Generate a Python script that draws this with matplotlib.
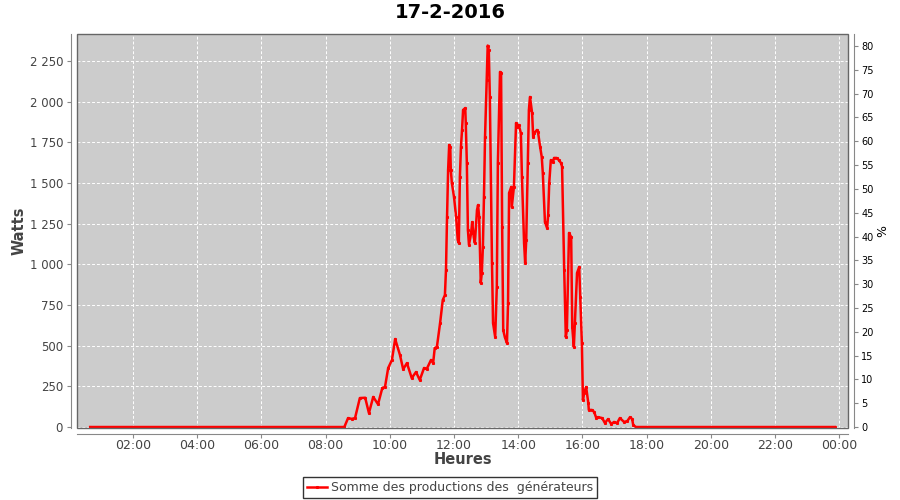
import matplotlib
matplotlib.use("Agg")
import matplotlib.pyplot as plt
from matplotlib.patches import Rectangle
from matplotlib.ticker import FuncFormatter

# Data (time of day, watts)
times = ["00:40", "08:35", "08:42", "08:49", "08:55", "09:04", "09:14", "09:21", "09:29",
         "09:38", "09:46", "09:51", "09:57", "10:04", "10:10", "10:19", "10:25", "10:32",
         "10:41", "10:49", "10:56", "11:04", "11:09", "11:17", "11:21", "11:24", "11:28",
         "11:34", "11:39", "11:43", "11:45", "11:47", "11:49", "11:51", "11:53", "11:54",
         "11:56", "12:00", "12:04", "12:07", "12:09", "12:11", "12:13", "12:15", "12:17",
         "12:21", "12:22", "12:24", "12:26", "12:28", "12:32", "12:34", "12:37", "12:39",
         "12:43", "12:45", "12:47", "12:50", "12:52", "12:54", "12:56", "12:58", "13:01",
         "13:03", "13:05", "13:07", "13:11", "13:13", "13:17", "13:20", "13:22", "13:26",
         "13:28", "13:30", "13:32", "13:35", "13:39", "13:41", "13:43", "13:47", "13:48",
         "13:52", "13:56", "13:58", "14:01", "14:05", "14:07", "14:11", "14:13", "14:15",
         "14:18", "14:20", "14:22", "14:26", "14:28", "14:30", "14:35", "14:37", "14:41",
         "14:44", "14:46", "14:50", "14:54", "14:56", "14:58", "15:01", "15:05", "15:07",
         "15:12", "15:16", "15:20", "15:22", "15:26", "15:29", "15:31", "15:35", "15:39",
         "15:41", "15:44", "15:46", "15:50", "15:54", "15:56", "15:59", "16:01", "16:03",
         "16:07", "16:11", "16:12", "16:18", "16:22", "16:26", "16:29", "16:37", "16:42",
         "16:48", "16:54", "16:59", "17:05", "17:10", "17:18", "17:24", "17:29", "17:33",
         "17:35", "17:40", "23:52"]
watts = [0, 0, 55, 50, 55, 178, 180, 86, 185,
         140, 240, 246, 363, 412, 541, 443, 355, 393,
         301, 338, 289, 363, 357, 412, 393, 486, 492,
         639, 781, 811, 965, 1291, 1580, 1734, 1722, 1580,
         1500, 1414, 1291, 1150, 1131, 1537, 1722, 1826, 1949,
         1961, 1869, 1623, 1211, 1119, 1193, 1260, 1168, 1131,
         1334, 1365, 1291, 885, 947, 1107, 1414, 1783, 2133,
         2345, 2318, 2029, 1008, 639, 553, 861, 1623, 2183,
         2176, 1230, 596, 553, 516, 762, 1439, 1476, 1353,
         1476, 1869, 1844, 1857, 1807, 1537, 1131, 1008, 1150,
         1623, 1949, 2029, 1930, 1783, 1807, 1826, 1813, 1722,
         1660, 1561, 1260, 1223, 1303, 1500, 1641, 1629, 1654,
         1654, 1641, 1623, 1600, 965, 553, 596, 1193, 1168,
         615, 492, 639, 947, 984, 799, 516, 166, 209,
         246, 148, 105, 105, 92, 55, 61, 55, 25,
         49, 18, 31, 25, 55, 31, 37, 61, 49,
         12, 0, 0]

x_tick_labels = ["02:00", "04:00", "06:00", "08:00", "10:00", "12:00",
                 "14:00", "16:00", "18:00", "20:00", "22:00", "00:00"]
x_tick_pos = [2, 4, 6, 8, 10, 12, 14, 16, 18, 20, 22, 24]
watt_ticks = [0, 250, 500, 750, 1000, 1250, 1500, 1750, 2000, 2250]
pct_ticks = list(range(0, 85, 5))

hours = [int(t[:2]) + int(t[3:]) / 60 for t in times]

fig = plt.figure(figsize=(9, 5), dpi=100)
ax = fig.add_axes([77 / 900, 1 - 428 / 500, (848 - 77) / 900, (428 - 34) / 500])
ax.set_facecolor('#cccccc')

ax.plot(hours, watts, color='#ff0000', lw=1.8, marker='s', markersize=1.2,
        label='Somme des productions des  générateurs', zorder=3)

ax.set_xlim(0.2555, 24.274)
ax.set_ylim(-6, 2416)
ax.set_xticks(x_tick_pos)
ax.set_xticklabels(x_tick_labels)
ax.set_yticks(watt_ticks)
ax.yaxis.set_major_formatter(FuncFormatter(lambda v, p: f"{int(v):,}".replace(",", " ")))
ax.grid(True, color='white', linestyle=(0, (3, 2)), linewidth=0.7)
ax.set_axisbelow(True)

for s in ['left', 'bottom']:
    ax.spines[s].set_position(('outward', 4))
    ax.spines[s].set_color('#888888')
ax.spines['top'].set_visible(False)
ax.spines['right'].set_visible(False)
ax.tick_params(colors='#888888', labelcolor='#444444', length=3)
ax.tick_params(axis='x', labelsize=9, pad=1)
ax.tick_params(axis='y', labelsize=8.5, pad=3)
ax.add_patch(Rectangle((0, 0), 1, 1, transform=ax.transAxes, fill=False,
                       edgecolor='#666666', lw=1, clip_on=False, zorder=5))

ax.set_xlabel('Heures', fontsize=10.5, fontweight='bold', color='#444444', labelpad=0)
ax.set_ylabel('Watts', fontsize=10.5, fontweight='bold', color='#444444', labelpad=2)

ax2 = ax.twinx()
ax2.set_ylim(-0.21, 82.52)
ax2.set_yticks(pct_ticks)
for s in ['left', 'bottom', 'top']:
    ax2.spines[s].set_visible(False)
ax2.spines['right'].set_position(('outward', 4))
ax2.spines['right'].set_color('#888888')
ax2.tick_params(colors='#888888', labelcolor='black', labelsize=7, length=3, pad=2.5)
ax2.set_ylabel('%', fontsize=9, color='black', labelpad=2)

fig.text(0.5, 1 - 13 / 500, '17-2-2016', fontsize=14, fontweight='bold',
         ha='center', va='center')

leg = fig.legend(loc='center', bbox_to_anchor=(450 / 900, 1 - 487.5 / 500),
                 frameon=True, fancybox=False, fontsize=9, handlelength=1.6,
                 handletextpad=0.3, borderpad=0.3, borderaxespad=0)
leg.get_frame().set_edgecolor('black')
leg.get_frame().set_linewidth(1)
for t in leg.get_texts():
    t.set_color('#444444')

fig.savefig('out.png', dpi=100)
